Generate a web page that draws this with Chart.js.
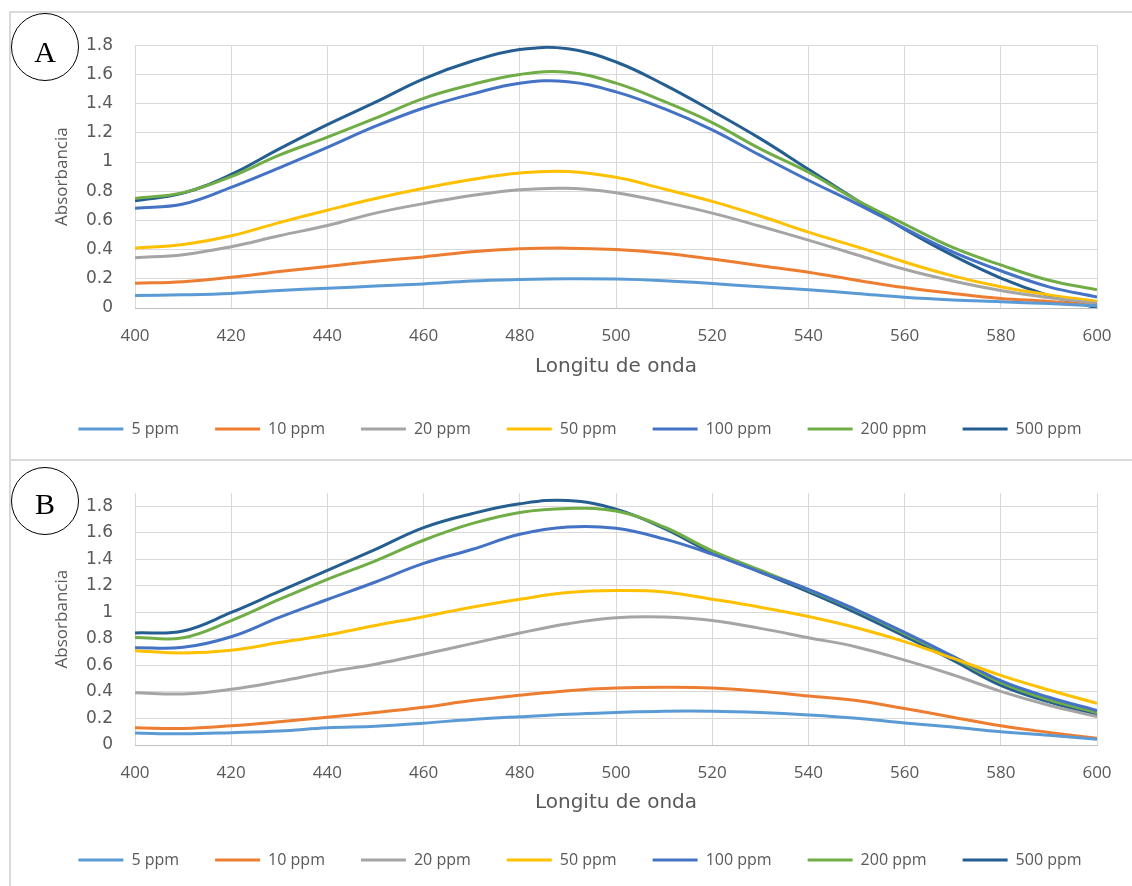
<!DOCTYPE html>
<html>
<head>
<meta charset="utf-8">
<script src="https://cdn.jsdelivr.net/npm/chart.js@4.4.1/dist/chart.umd.min.js"></script>
<style>
body { margin: 0; background: #fff; width: 1132px; height: 886px; overflow: hidden; position: relative; }
.frame { position: absolute; border-top: 2px solid #d9d9d9; border-left: 2px solid #d9d9d9; }
#frameA { left: 9px; top: 11px; width: 1130px; height: 448px; }
#frameB { left: 9px; top: 459px; width: 1130px; height: 440px; }
.wrap { position: absolute; left: 11px; width: 1121px; }
#wrapA { top: 13px; height: 446px; }
#wrapB { top: 461px; height: 425px; }
.tag { position: absolute; left: 11px; width: 66px; height: 66px; border: 1.5px solid #000; border-radius: 50%;
       font-family: 'Liberation Serif', 'DejaVu Serif', serif; font-size: 30px; text-align: center; color: #000; }
#tagA { top: 13px; line-height: 76px; }
#tagB { top: 467px; line-height: 72px; }
</style>
</head>
<body>
<div class="frame" id="frameA"></div>
<div class="frame" id="frameB"></div>
<div class="wrap" id="wrapA"><canvas id="chartA"></canvas></div>
<div class="wrap" id="wrapB"><canvas id="chartB"></canvas></div>
<div class="tag" id="tagA">A</div>
<div class="tag" id="tagB">B</div>
<script>
var FONT = "'Open Sans', 'Noto Sans', sans-serif";
var WIDE = "'DejaVu Sans', sans-serif";
var TEXT = '#595959';

var wavelengths = [400, 410, 420, 430, 440, 450, 460, 470, 480, 490, 500, 510, 520, 530, 540, 550, 560, 570, 580, 590, 600];
var seriesNames = ['5 ppm', '10 ppm', '20 ppm', '50 ppm', '100 ppm', '200 ppm', '500 ppm'];
var seriesColors = ['#5B9BD5', '#ED7D31', '#A5A5A5', '#FFC000', '#4472C4', '#70AD47', '#255E91'];

// panel A
var a5   = [0.085, 0.09, 0.10, 0.12, 0.135, 0.15, 0.165, 0.185, 0.195, 0.20, 0.198, 0.187, 0.168, 0.145, 0.125, 0.10, 0.073, 0.055, 0.043, 0.03, 0.015];
var a10  = [0.17, 0.18, 0.21, 0.25, 0.285, 0.32, 0.35, 0.385, 0.405, 0.41, 0.40, 0.375, 0.335, 0.29, 0.245, 0.19, 0.14, 0.10, 0.065, 0.045, 0.015];
var a20  = [0.345, 0.365, 0.42, 0.495, 0.565, 0.65, 0.715, 0.77, 0.81, 0.82, 0.79, 0.725, 0.65, 0.56, 0.465, 0.365, 0.265, 0.185, 0.12, 0.07, 0.03];
var a50  = [0.41, 0.435, 0.495, 0.585, 0.67, 0.75, 0.82, 0.88, 0.925, 0.935, 0.895, 0.815, 0.73, 0.63, 0.52, 0.42, 0.315, 0.22, 0.145, 0.09, 0.045];
var a100 = [0.683, 0.712, 0.826, 0.96, 1.10, 1.245, 1.37, 1.465, 1.54, 1.55, 1.48, 1.365, 1.22, 1.045, 0.875, 0.715, 0.545, 0.385, 0.255, 0.145, 0.075];
var a200 = [0.75, 0.79, 0.90, 1.047, 1.17, 1.30, 1.436, 1.53, 1.60, 1.615, 1.54, 1.415, 1.27, 1.09, 0.93, 0.74, 0.575, 0.415, 0.295, 0.19, 0.125];
var a500 = [0.735, 0.787, 0.915, 1.09, 1.256, 1.41, 1.57, 1.69, 1.77, 1.775, 1.685, 1.53, 1.35, 1.16, 0.95, 0.74, 0.54, 0.36, 0.205, 0.085, 0.0];

// panel B
var b5   = [0.09, 0.085, 0.093, 0.105, 0.13, 0.142, 0.165, 0.193, 0.213, 0.232, 0.245, 0.255, 0.255, 0.245, 0.227, 0.202, 0.166, 0.135, 0.1, 0.073, 0.044];
var b10  = [0.13, 0.125, 0.145, 0.175, 0.21, 0.245, 0.285, 0.335, 0.375, 0.41, 0.43, 0.435, 0.43, 0.405, 0.37, 0.335, 0.275, 0.21, 0.145, 0.095, 0.05];
var b20  = [0.395, 0.385, 0.42, 0.48, 0.55, 0.61, 0.685, 0.765, 0.845, 0.915, 0.96, 0.965, 0.94, 0.88, 0.81, 0.74, 0.64, 0.53, 0.405, 0.30, 0.215];
var b50  = [0.712, 0.695, 0.715, 0.773, 0.83, 0.902, 0.968, 1.04, 1.10, 1.15, 1.165, 1.155, 1.10, 1.04, 0.97, 0.885, 0.78, 0.655, 0.525, 0.415, 0.315];
var b100 = [0.734, 0.737, 0.817, 0.963, 1.098, 1.23, 1.37, 1.475, 1.59, 1.645, 1.635, 1.555, 1.44, 1.305, 1.175, 1.02, 0.85, 0.67, 0.485, 0.36, 0.26];
var b200 = [0.812, 0.81, 0.939, 1.098, 1.25, 1.39, 1.545, 1.67, 1.755, 1.785, 1.765, 1.645, 1.465, 1.32, 1.17, 1.015, 0.84, 0.66, 0.47, 0.34, 0.245];
var b500 = [0.846, 0.86, 1.0, 1.159, 1.317, 1.476, 1.64, 1.745, 1.82, 1.845, 1.78, 1.635, 1.45, 1.305, 1.155, 0.995, 0.82, 0.64, 0.45, 0.325, 0.225];

function toPoints(values) {
    return values.map(function (v, i) { return { x: wavelengths[i], y: v }; });
}

function buildChart(id, seriesList, yMax, lay) {
    var ctx = document.getElementById(id).getContext('2d');
    return new Chart(ctx, {
        type: 'line',
        data: {
            datasets: seriesList.map(function (vals, i) {
                return {
                    label: seriesNames[i],
                    data: toPoints(vals),
                    borderColor: seriesColors[i],
                    backgroundColor: seriesColors[i],
                    borderWidth: 3,
                    pointRadius: 0,
                    tension: 0.4,
                    fill: false
                };
            })
        },
        options: {
            responsive: true,
            maintainAspectRatio: false,
            animation: false,
            layout: { padding: { left: 17, right: 0, top: lay.top, bottom: lay.bottom } },
            plugins: {
                legend: {
                    position: 'bottom',
                    labels: {
                        usePointStyle: true,
                        pointStyle: 'line',
                        pointStyleWidth: 45,
                        padding: 36,
                        color: TEXT,
                        font: { size: 16, family: FONT }
                    }
                },
                tooltip: { enabled: false }
            },
            scales: {
                x: {
                    type: 'linear',
                    min: 400,
                    max: 600,
                    ticks: { stepSize: 20, padding: 18, color: TEXT, font: { size: 17, family: FONT } },
                    grid: { color: '#d9d9d9', drawTicks: false },
                    border: { color: '#bfbfbf' },
                    title: { display: true, text: 'Longitu de onda', color: TEXT,
                             font: { size: 20, family: WIDE }, padding: { top: 0, bottom: lay.titleBottom } },
                    afterFit: function (s) { s.height = lay.xHeight; }
                },
                y: {
                    min: 0,
                    max: yMax,
                    ticks: {
                        stepSize: 0.2,
                        includeBounds: false,
                        padding: 22,
                        color: TEXT,
                        font: { size: 17, family: WIDE },
                        callback: function (v) { return String(Math.round(v * 10) / 10); }
                    },
                    grid: { color: '#d9d9d9', drawTicks: false },
                    border: { display: false },
                    title: { display: true, text: 'Absorbancia', color: TEXT,
                             font: { size: 17, family: FONT }, padding: { top: 24, bottom: 0 } },
                    afterFit: function (s) { s.width = 107; }
                },
                y2: {
                    position: 'right',
                    ticks: { display: false },
                    grid: { display: false },
                    border: { display: false },
                    afterFit: function (s) { s.width = 35; }
                }
            }
        }
    });
}

var chartA = buildChart('chartA', [a5, a10, a20, a50, a100, a200, a500], 1.8,
    { top: 23, bottom: 12, xHeight: 77, titleBottom: 6 });
var chartB = buildChart('chartB', [b5, b10, b20, b50, b100, b200, b500], 1.9,
    { top: 24, bottom: 8, xHeight: 71, titleBottom: 1 });
</script>
</body>
</html>
